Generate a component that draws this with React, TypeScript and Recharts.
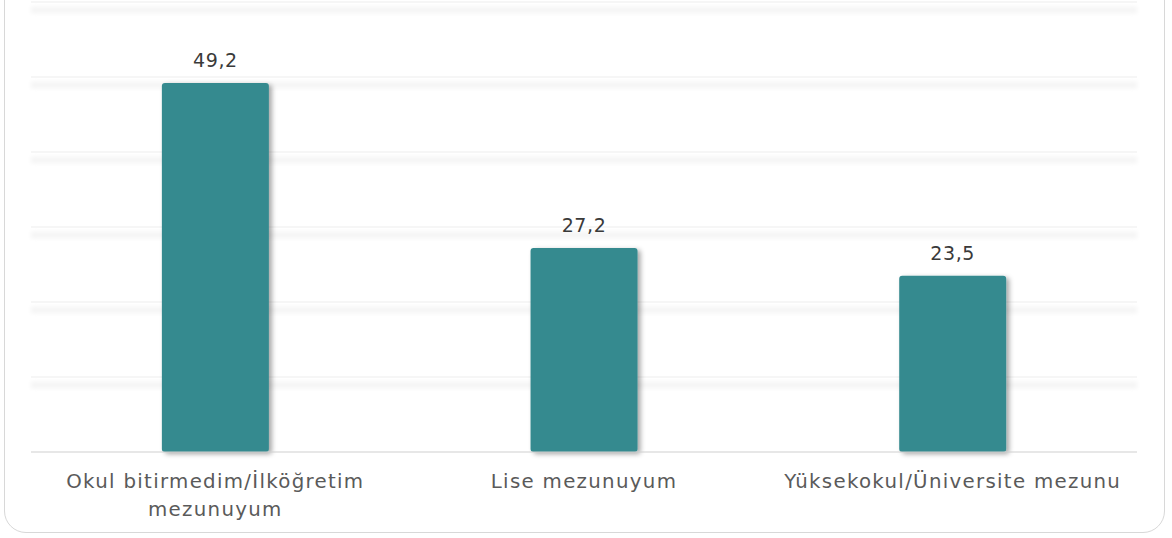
import React from "react";
import { BarChart, Bar, XAxis, YAxis, CartesianGrid, LabelList, Text } from "recharts";

const categories = [
  "Okul bitirmedim/İlköğretim mezunuyum",
  "Lise mezunuyum",
  "Yüksekokul/Üniversite mezunu",
];
const values = [49.2, 27.2, 23.5];
const yTicks = [0, 10, 20, 30, 40, 50, 60];

const data = categories.map((name, i) => ({ name, value: values[i] }));

const FONT = "'DejaVu Sans', sans-serif";

const GridLine = (props: any) => {
  const { x1, x2, y1, index } = props;
  if (index === 0) return <g />;
  return (
    <g>
      <line x1={x1} x2={x2} y1={y1 + 8} y2={y1 + 8} stroke="#f1f1f1" strokeWidth={5} filter="url(#gridBlur)" />
      <line x1={x1} x2={x2} y1={y1} y2={y1} stroke="#ededed" strokeWidth={1.2} />
    </g>
  );
};

const Tick = (props: any) => {
  const { x, y, payload } = props;
  return (
    <Text
      x={x}
      y={y + 14}
      width={360}
      textAnchor="middle"
      verticalAnchor="start"
      lineHeight={28}
      fontFamily={FONT}
      fontSize={19.8}
      fill="#5a5a5a"
      style={{ letterSpacing: "1.3px", fontFamily: FONT, fontSize: 19.8 }}
    >
      {payload.value}
    </Text>
  );
};

export default function App() {
  return (
    <div style={{ position: "absolute", left: 0, top: 0, width: 1172, height: 538, background: "#fff", overflow: "hidden" }}>
      <svg width={0} height={0} style={{ position: "absolute" }}>
        <defs>
          <filter id="barShadow" x="-20%" y="-10%" width="140%" height="120%">
            <feGaussianBlur in="SourceGraphic" stdDeviation={0.6} result="soft" />
            <feDropShadow in="soft" dx={3} dy={2} stdDeviation={2.5} floodColor="#000" floodOpacity={0.35} />
          </filter>
          <filter id="gridBlur" filterUnits="userSpaceOnUse" x={0} y={-20} width={1200} height={600}>
            <feGaussianBlur stdDeviation={2.5} />
          </filter>
        </defs>
      </svg>
      <div
        style={{
          position: "absolute",
          left: 4,
          top: -40,
          width: 1161,
          height: 573,
          border: "1.5px solid #d8d8d8",
          borderRadius: 22,
          boxSizing: "border-box",
        }}
      />
      <div style={{ position: "absolute", left: 0, top: 0 }}>
        <BarChart
          width={1172}
          height={538}
          data={data}
          margin={{ top: 2, right: 35, left: 31, bottom: 0 }}
          barCategoryGap="35.5%"
        >
          <CartesianGrid vertical={false} horizontal={GridLine as any} />
          <YAxis hide domain={[0, 60]} ticks={yTicks} />
          <XAxis
            dataKey="name"
            height={86}
            axisLine={{ stroke: "#cfcfcf", strokeWidth: 1.2 }}
            tickLine={false}
            interval={0}
            tick={Tick}
          />
          <Bar dataKey="value" fill="#368a8f" radius={[3, 3, 3, 3]} isAnimationActive={false} style={{ filter: "url(#barShadow)" }}>
            <LabelList
              dataKey="value"
              position="top"
              offset={16}
              formatter={(v: any) => String(v).replace(".", ",")}
              style={{ fontFamily: FONT, fontSize: 19, fill: "#3a3a3a", letterSpacing: "0.6px" }}
            />
          </Bar>
        </BarChart>
      </div>
    </div>
  );
}
